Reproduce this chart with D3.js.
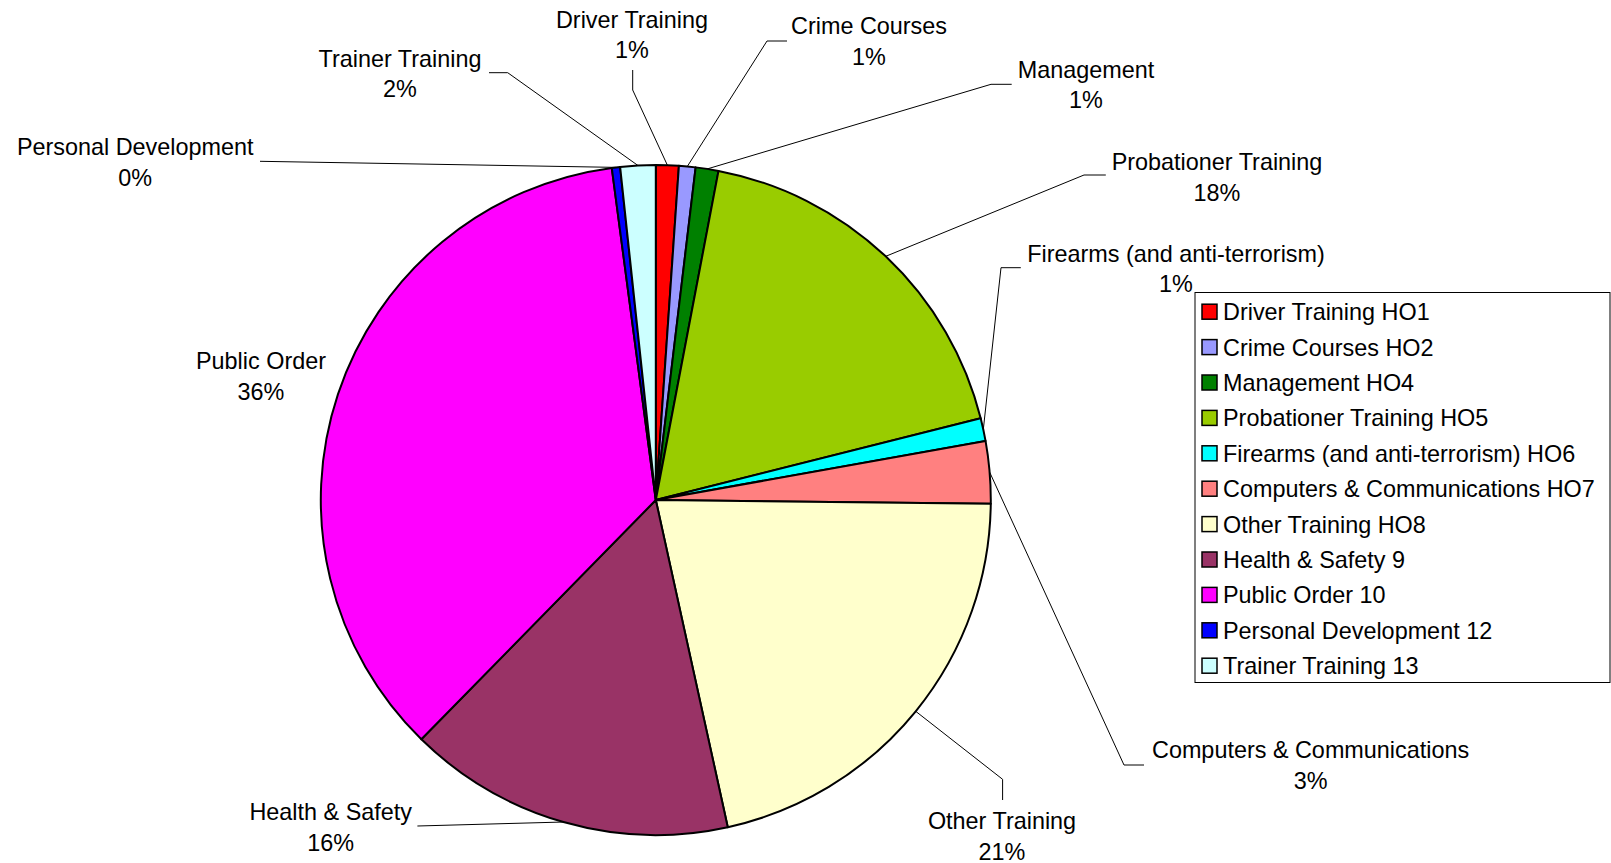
<!DOCTYPE html>
<html>
<head>
<meta charset="utf-8">
<script src="https://cdn.jsdelivr.net/npm/d3@7"></script>
<style>
  html, body { margin: 0; padding: 0; background: #fff; }
  svg { display: block; font-family: Arial, "Liberation Sans", sans-serif; }
</style>
</head>
<body>
<svg width="1611" height="863"></svg>
<script>
// data
var categories = ["Driver Training", "Crime Courses", "Management", "Probationer Training",
    "Firearms (and anti-terrorism)", "Computers & Communications", "Other Training",
    "Health & Safety", "Public Order", "Personal Development", "Trainer Training"];
var legendNames = ["Driver Training HO1", "Crime Courses HO2", "Management HO4",
    "Probationer Training HO5", "Firearms (and anti-terrorism) HO6",
    "Computers & Communications HO7", "Other Training HO8", "Health & Safety 9",
    "Public Order 10", "Personal Development 12", "Trainer Training 13"];
var values = [1.1, 0.8, 1.1, 18.1, 1.1, 3.0, 21.4, 15.8, 35.6, 0.4, 1.7];
var colors = ["#FF0000", "#9999FF", "#008000", "#99CC00", "#00FFFF", "#FF8080",
    "#FFFFCC", "#993366", "#FF00FF", "#0000FF", "#CCFFFF"];

// where each data label sits, and the bend of its leader line
var labelLayout = {
    "Driver Training": {x: 632, y: 19.5, line: [[632.7, 70], [632.7, 90]]},
    "Crime Courses": {x: 869, y: 26, line: [[787, 41], [767, 41]]},
    "Management": {x: 1086, y: 69.3, line: [[1011.7, 84.3], [991, 84.3]]},
    "Probationer Training": {x: 1217, y: 161.7, line: [[1105.8, 175], [1084, 175]]},
    "Firearms (and anti-terrorism)": {x: 1176, y: 253.3, line: [[1020.8, 267.7], [1001, 267.7]]},
    "Computers & Communications": {x: 1310.6, y: 750, line: [[1144, 765], [1124, 765]]},
    "Other Training": {x: 1002, y: 820.7, line: [[1002.6, 800], [1002.6, 779.3]]},
    "Health & Safety": {x: 330.7, y: 811.7, line: [[417.4, 826]]},
    "Public Order": {x: 261, y: 360.6, line: null},
    "Personal Development": {x: 135.2, y: 146.7, line: [[260, 161.3]]},
    "Trainer Training": {x: 400, y: 58.3, line: [[489, 72.7], [507.7, 72.7]]}
};

var svg = d3.select("svg");
var cx = 655.8, cy = 500, radius = 335;
var fontSize = 23.4;

var total = d3.sum(values);
var rows = categories.map(function(c, i){
    return {name: c, legend: legendNames[i], value: values[i], color: colors[i]};
});

var pie = d3.pie().sort(null).value(function(d){ return d.value; });
var arcs = pie(rows);

var arc = d3.arc().innerRadius(0).outerRadius(radius);
var edgeArc = d3.arc().innerRadius(radius).outerRadius(radius);

var g = svg.append("g").attr("transform", "translate(" + cx + "," + cy + ")");

g.selectAll(".slice")
    .data(arcs)
    .enter().append("path")
    .attr("class", "slice")
    .attr("d", arc)
    .attr("fill", function(d){ return d.data.color; })
    .attr("stroke", "#000")
    .attr("stroke-width", 2)
    .attr("stroke-linejoin", "round");

// leader lines
var lineGen = d3.line();
arcs.forEach(function(d){
    var lay = labelLayout[d.data.name];
    if (!lay.line) return;
    var c = edgeArc.centroid(d);
    var pts = lay.line.slice().reverse().concat([]);
    // attach point first, then elbow, then the slice edge
    var path = lay.line.map(function(p){ return p; });
    path.push([c[0] + cx, c[1] + cy]);
    svg.append("path")
        .attr("d", lineGen(path))
        .attr("fill", "none")
        .attr("stroke", "#000")
        .attr("stroke-width", 1);
});

// data labels
arcs.forEach(function(d){
    var lay = labelLayout[d.data.name];
    var pct = Math.round(d.data.value / total * 100) + "%";
    var t = svg.append("text")
        .attr("text-anchor", "middle")
        .attr("font-size", fontSize)
        .attr("fill", "#000");
    t.append("tspan").attr("x", lay.x).attr("y", lay.y + 8.4).text(d.data.name);
    t.append("tspan").attr("x", lay.x).attr("y", lay.y + 30.5 + 8.4).text(pct);
});

// legend
var legX = 1195, legY = 292.5, legW = 415, legH = 390, rowH = 35.4;
var legend = svg.append("g");
legend.append("rect")
    .attr("x", legX).attr("y", legY)
    .attr("width", legW).attr("height", legH)
    .attr("fill", "#fff")
    .attr("stroke", "#000")
    .attr("stroke-width", 1);

var items = legend.selectAll(".item")
    .data(rows)
    .enter().append("g")
    .attr("class", "item")
    .attr("transform", function(d, i){
        return "translate(" + (legX + 7) + "," + (legY + 19.2 + i * rowH) + ")";
    });

items.append("rect")
    .attr("x", 0).attr("y", -7.5)
    .attr("width", 15).attr("height", 15)
    .attr("fill", function(d){ return d.color; })
    .attr("stroke", "#000")
    .attr("stroke-width", 1.5);

items.append("text")
    .attr("x", 21)
    .attr("y", 8.4)
    .attr("font-size", fontSize)
    .attr("fill", "#000")
    .text(function(d){ return d.legend; });
</script>
</body>
</html>
